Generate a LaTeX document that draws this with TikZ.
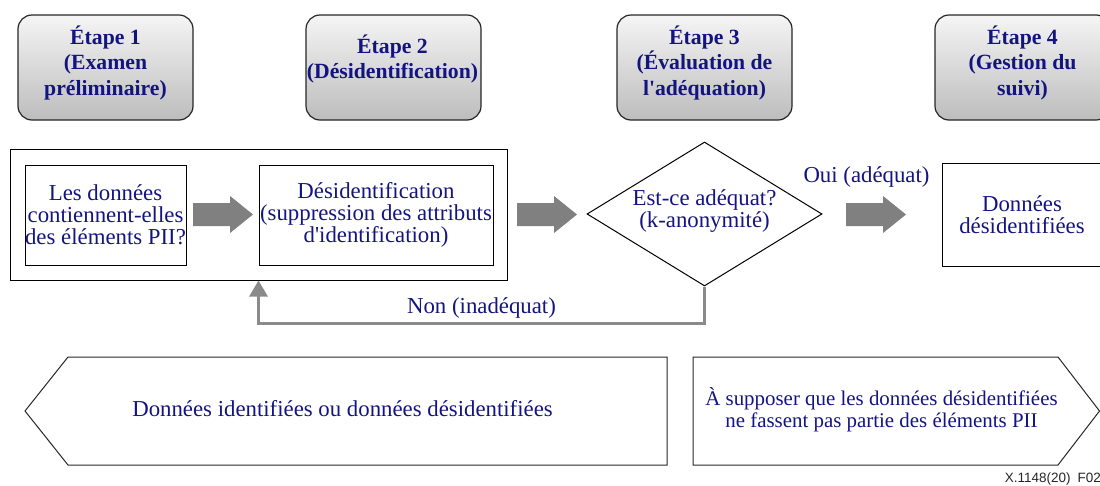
\documentclass[tikz,border=0pt]{standalone}
\usepackage{fontspec}
\setmainfont{Liberation Serif}[Ligatures=TeXOff]
\newfontfamily\arialfont{Liberation Sans}
\usetikzlibrary{shapes.geometric,arrows.meta}
\definecolor{txtblue}{RGB}{20,20,128}
\definecolor{arrgray}{RGB}{128,128,128}
\definecolor{fbgray}{RGB}{138,138,138}
\newcommand{\blockarr}[3]{\fill[arrgray] (#1,#3-11.5) -- (#2-23,#3-11.5) -- (#2-23,#3-18.5) -- (#2,#3) -- (#2-23,#3+18.5) -- (#2-23,#3+11.5) -- (#1,#3+11.5) -- cycle;}
\tikzset{
  txt/.style={text=txtblue, font=\fontsize{22.8}{22}\selectfont, align=center, inner sep=0pt},
  headbox/.style={draw=black!85, line width=1.2pt, rounded corners=14pt,
    top color=white!96!black, bottom color=black!26,
    minimum width=175pt, minimum height=105pt, inner sep=0pt},
  headtxt/.style={text=txtblue, font=\bfseries\fontsize{21.7}{25.5}\selectfont,
    align=center, inner sep=0pt},
  plainbox/.style={draw=black, line width=1pt, inner sep=0pt, text=txtblue,
    font=\fontsize{22.8}{22}\selectfont, align=center},
  tagbox/.style={draw=black!85, line width=1pt},
  fb/.style={draw=fbgray, line width=3pt, -{Triangle[length=16pt,width=18pt]}},
}
\begin{document}
\begin{tikzpicture}[x=1pt,y=-1pt]
\useasboundingbox (0,0) rectangle (1100,485);
\clip (0,0) rectangle (1100,485);
% step headers
\node[headbox] (h1) at (105.5,67.5) {};
\node[headbox] (h2) at (393.5,67.5) {};
\node[headbox] (h3) at (704.5,67.5) {};
\node[headbox] (h4) at (1022.5,67.5) {};
\node[headtxt] (h1t) at (105.5,62.5) {Étape 1\\(Examen\\préliminaire)};
\node[headtxt] (h2t) at (392.5,59) {Étape 2\\(Désidentification)};
\node[headtxt] (h3t) at (704.5,62.5) {Étape 3\\(Évaluation de\\l'adéquation)};
\node[headtxt] (h4t) at (1022.5,62.5) {Étape 4\\(Gestion du\\suivi)};
% middle row
\node[plainbox, minimum width=497pt, minimum height=131pt] (o) at (258.5,214.5) {};
\node[plainbox, minimum width=161pt, minimum height=100pt] (b1) at (105.5,215)
  {Les données\\contiennent-elles\\des éléments PII?};
\node[plainbox, minimum width=234pt, minimum height=100pt] (b2) at (376,215)
  {Désidentification\\(suppression des attributs\\d'identification)};
\node[draw=black, line width=1pt, diamond, aspect=1.63, minimum width=235pt,
  minimum height=144pt, inner sep=0pt] (d) at (704.5,214) {};
\node[txt] (dt) at (704.5,211) {Est-ce adéquat?\\(k-anonymité)};
\node[plainbox, minimum width=160pt, minimum height=103pt] (r) at (1022,214.5)
  {Données\\désidentifiées};
\blockarr{193}{253}{214.5}
\blockarr{517}{577}{214.5}
\blockarr{846}{906}{214.5}
\node[txt, anchor=base] (oui) at (866.5,182) {Oui (adéquat)};
% feedback
\draw[fb] (d.south) -- ++(0,37) -| (o.south -| b2.west);
\node[txt, anchor=base] (non) at (481.5,313) {Non (inadéquat)};
% bottom tags
\draw[tagbox] (25,411) -- (68,357) -- (667,357) -- (667,465) -- (68,465) -- cycle;
\node[txt, anchor=base] (lt) at (342.5,416) {Données identifiées ou données désidentifiées};
\draw[tagbox] (693,357) -- (1058,357) -- (1099.5,411) -- (1058,465) -- (693,465) -- cycle;
\node[txt, font=\fontsize{20.9}{22}\selectfont] (rt) at (881.5,409.5)
  {À supposer que les données désidentifiées\\ne fassent pas partie des éléments PII};
\node[anchor=base east, inner sep=0pt, text=black!85, font=\arialfont\fontsize{13.5}{14}\selectfont] (fig) at (1101,482) {X.1148(20)\hspace{7pt}F02};
\end{tikzpicture}
\end{document}
